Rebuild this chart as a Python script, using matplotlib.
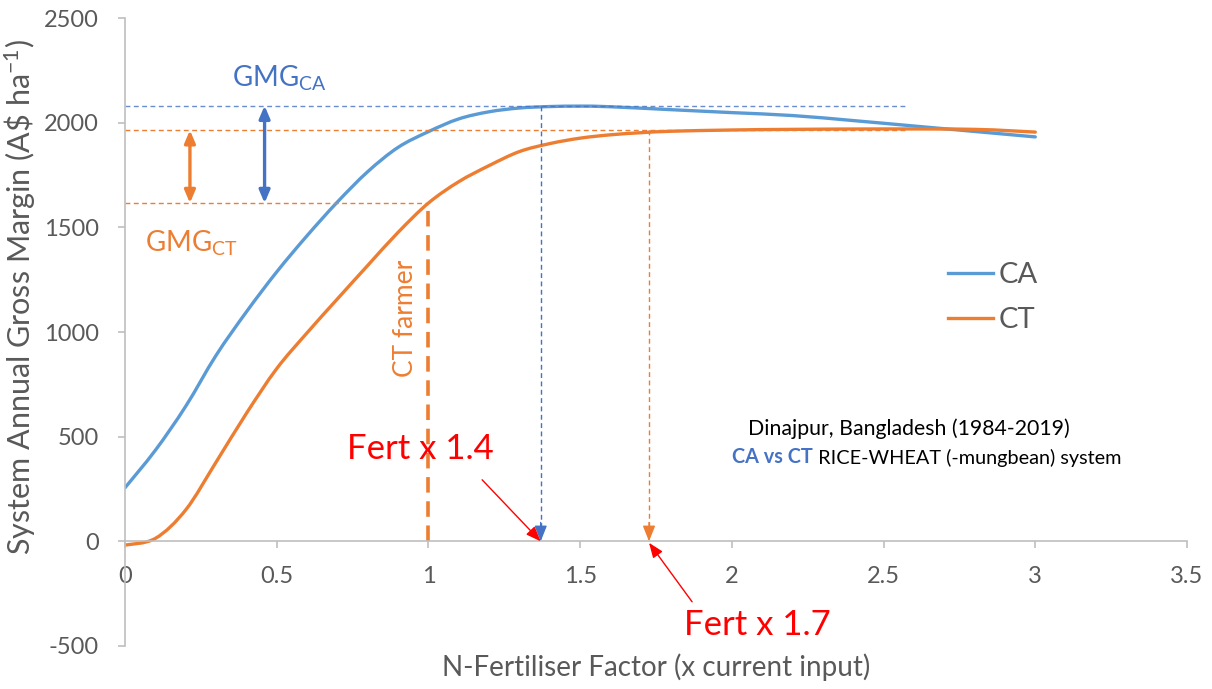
import matplotlib
matplotlib.use("Agg")
import matplotlib.pyplot as plt
from matplotlib.path import Path
from matplotlib.patches import PathPatch
from matplotlib.lines import Line2D

plt.rcParams['font.family'] = ['Lato', 'DejaVu Sans']
plt.rcParams['mathtext.fontset'] = 'custom'
plt.rcParams['mathtext.rm'] = 'Lato'
plt.rcParams['mathtext.it'] = 'Lato:italic'
plt.rcParams['mathtext.bf'] = 'Lato:bold'
plt.rcParams['axes.unicode_minus'] = False

# ---- data ----
ca_x = [0, 0.1, 0.2, 0.3, 0.4, 0.5, 0.6, 0.7, 0.8, 0.9, 1.0, 1.1, 1.2, 1.3,
        1.4, 1.5, 1.6, 1.8, 2.0, 2.2, 2.4, 2.6, 2.8, 3.0]
ca_y = [256, 435, 645, 888, 1096, 1287, 1460, 1621, 1766, 1882, 1957, 2018,
        2052, 2070, 2077, 2079, 2076, 2062, 2048, 2034, 2010, 1984, 1958, 1932]

ct_x = [0, 0.1, 0.2, 0.3, 0.4, 0.5, 0.6, 0.7, 0.8, 0.9, 1.0, 1.1, 1.2, 1.3,
        1.4, 1.5, 1.6, 1.7, 1.8, 2.0, 2.2, 2.5, 2.8, 3.0]
ct_y = [-18, 14, 150, 378, 611, 825, 996, 1158, 1318, 1476, 1616, 1718,
        1795, 1862, 1900, 1926, 1942, 1952, 1959, 1965, 1968, 1970, 1968, 1955]

series_names = ["CA", "CT"]
x_ticks = [0, 0.5, 1, 1.5, 2, 2.5, 3, 3.5]
x_tick_labels = ["0", "0.5", "1", "1.5", "2", "2.5", "3", "3.5"]
y_ticks = [-500, 0, 500, 1000, 1500, 2000, 2500]

ca_max = 2081        # GMG CA level
ct_max = 1964        # CT plateau level
ct_farmer = 1616     # CT farmer level
farmer_x = 1.0
ca_opt_x = 1.37
ct_opt_x = 1.727
gmg_end_x = 2.58

BLUE = '#5B9BD5'
DBLUE = '#4472C4'
ORANGE = '#ED7D31'
GRAY = '#595959'
AX = '#BFBFBF'


def smooth_path(xs, ys):
    """Excel-style smoothed line: cubic Bezier through every data point."""
    pts = list(zip(xs, ys))
    n = len(pts)
    verts = [pts[0]]
    codes = [Path.MOVETO]
    for i in range(n - 1):
        p0 = pts[i - 1] if i > 0 else pts[i]
        p1 = pts[i]
        p2 = pts[i + 1]
        p3 = pts[i + 2] if i + 2 < n else pts[i + 1]
        c1 = (p1[0] + (p2[0] - p0[0]) / 6, p1[1] + (p2[1] - p0[1]) / 6)
        c2 = (p2[0] - (p3[0] - p1[0]) / 6, p2[1] - (p3[1] - p1[1]) / 6)
        verts += [c1, c2, p2]
        codes += [Path.CURVE4] * 3
    return Path(verts, codes)


fig = plt.figure(figsize=(12.12, 6.89), dpi=100)
ax = fig.add_axes([125/1212, 1-646/689, 1062/1212, 628/689])
ax.set_xlim(0, 3.5)
ax.set_ylim(-500, 2500)

for s in ['top', 'right']:
    ax.spines[s].set_visible(False)
ax.spines['bottom'].set_position(('data', 0))
ax.spines['bottom'].set_color(AX)
ax.spines['left'].set_color(AX)
ax.spines['bottom'].set_linewidth(1.2)
ax.spines['left'].set_linewidth(1.2)
ax.set_xticks(x_ticks)
ax.set_xticklabels(x_tick_labels)
ax.set_yticks(y_ticks)
ax.tick_params(axis='both', colors=AX, labelcolor=GRAY, labelsize=17, length=5, width=1.2)
ax.tick_params(axis='x', pad=13)
ax.tick_params(axis='y', pad=14)

ax.set_xlabel("N-Fertiliser Factor (x current input)", fontsize=20, color=GRAY)
ax.xaxis.set_label_coords(0.5, -0.012)
ax.set_ylabel(r"System Annual Gross Margin (A\$ ha$^{-1}$)", fontsize=22, color=GRAY)
ax.yaxis.set_label_coords(-0.082, 0.555)

dash_thin = dict(lw=1.0, dashes=(3.5, 2.5))
ax.plot([0, gmg_end_x], [ca_max, ca_max], color=DBLUE, alpha=0.8, **dash_thin)
ax.plot([0, gmg_end_x], [ct_max, ct_max], color=ORANGE, **dash_thin)
ax.plot([0, farmer_x], [ct_farmer, ct_farmer], color=ORANGE, **dash_thin)

ax.plot([ca_opt_x, ca_opt_x], [ca_max, 60], color=DBLUE, **dash_thin)
ax.plot([ct_opt_x, ct_opt_x], [ct_max, 60], color=ORANGE, **dash_thin)
for xx, col in [(ca_opt_x, DBLUE), (ct_opt_x, ORANGE)]:
    ax.annotate('', xy=(xx, 0), xytext=(xx, 90),
                arrowprops=dict(arrowstyle='-|>,head_length=0.95,head_width=0.38',
                                color=col, lw=1, shrinkA=0, shrinkB=0))

ax.plot([farmer_x, farmer_x], [0, ct_farmer], color=ORANGE, lw=2.6, dashes=(4.3, 2.4))

# curves (smoothed through the data points)
for xs, ys, col in [(ca_x, ca_y, BLUE), (ct_x, ct_y, ORANGE)]:
    ax.add_patch(PathPatch(smooth_path(xs, ys), facecolor='none', edgecolor=col,
                           lw=2.4, capstyle='round', joinstyle='round'))

ax.annotate('', xy=(0.214, ct_max), xytext=(0.214, ct_farmer),
            arrowprops=dict(arrowstyle='<|-|>,head_length=0.75,head_width=0.32',
                            color=ORANGE, lw=2.4, shrinkA=0, shrinkB=0))
ax.annotate('', xy=(0.46, ca_max), xytext=(0.46, ct_farmer),
            arrowprops=dict(arrowstyle='<|-|>,head_length=0.75,head_width=0.32',
                            color=DBLUE, lw=2.4, shrinkA=0, shrinkB=0))

ax.text(0.51, 2210, r"GMG$_{\mathrm{CA}}$", fontsize=20, color=DBLUE, ha='center', va='center')
ax.text(0.22, 1425, r"GMG$_{\mathrm{CT}}$", fontsize=20, color=ORANGE, ha='center', va='center')
ax.text(0.923, 1067, "CT farmer", fontsize=19, color=ORANGE, rotation=90, ha='center', va='center')

ax.text(0.972, 440, "Fert x 1.4", fontsize=25, color='red', ha='center', va='center')
ax.annotate('', xy=(ca_opt_x, 0), xytext=(1.177, 294),
            arrowprops=dict(arrowstyle='-|>,head_length=0.9,head_width=0.35',
                            color='red', lw=1, shrinkA=0, shrinkB=0))
ax.text(2.083, -400, "Fert x 1.7", fontsize=25, color='red', ha='center', va='center')
ax.annotate('', xy=(ct_opt_x, -7), xytext=(1.869, -289),
            arrowprops=dict(arrowstyle='-|>,head_length=0.9,head_width=0.35',
                            color='red', lw=1, shrinkA=0, shrinkB=0))

ax.text(2.585, 509, "Dinajpur, Bangladesh (1984-2019)", fontsize=15.3, color='black',
        ha='center', va='baseline')
t1 = ax.text(2.0, 375, "CA vs CT", fontsize=14.3, color=DBLUE, fontweight='bold',
             ha='left', va='baseline')
ax.annotate(" RICE-WHEAT (-mungbean) system", xy=(1, 0), xycoords=t1,
            fontsize=14.3, color='black', ha='left', va='bottom')

handles = [Line2D([], [], color=BLUE, lw=2.4), Line2D([], [], color=ORANGE, lw=2.4)]
leg = ax.legend(handles, series_names, loc='upper left',
                bbox_to_anchor=(948/1212, 1-262/689),
                bbox_transform=fig.transFigure, frameon=False, fontsize=21,
                handlelength=1.55, handletextpad=0.2, labelspacing=0.65,
                borderpad=0, borderaxespad=0)
for t in leg.get_texts():
    t.set_color(GRAY)

fig.savefig("out.png", dpi=100)
